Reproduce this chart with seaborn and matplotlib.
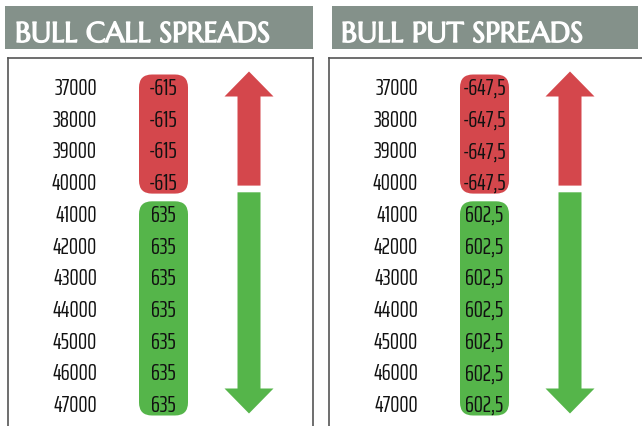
import matplotlib
matplotlib.use("Agg")
import matplotlib.pyplot as plt
import matplotlib.patheffects as pe
from matplotlib.patches import FancyBboxPatch, FancyArrow
import seaborn as sns

# данные
strikes = [37000, 38000, 39000, 40000, 41000, 42000, 43000, 44000, 45000, 46000, 47000]
call_values = [-615, -615, -615, -615, 635, 635, 635, 635, 635, 635, 635]
put_values = [-647.5, -647.5, -647.5, -647.5, 602.5, 602.5, 602.5, 602.5, 602.5, 602.5, 602.5]
titles = ["BULL CALL SPREADS", "BULL PUT SPREADS"]

sns.set_theme(style="white")
plt.rcParams['font.family'] = ['Saira ExtraCondensed', 'DejaVu Sans']
TITLE_FONT = ['Marcellus', 'Liberation Serif']

RED = "#D4474C"
GREEN = "#55B54A"
HEADER = "#84918A"
W, H = 642, 426

fig = plt.figure(figsize=(W / 100, H / 100), dpi=100)
fig.patch.set_facecolor("white")


def px_axes(x0, y0, w, h):
    return fig.add_axes([x0 / W, 1 - (y0 + h) / H, w / W, h / H])


def fmt(v):
    return f"{v:g}".replace(".", ",")


def draw_panel(x0, width, title, hx0, hwidth, tx, values):
    # заголовок
    hax = px_axes(hx0, 6, hwidth, 43)
    hax.set_facecolor(HEADER)
    hax.set_xticks([]); hax.set_yticks([])
    for s in hax.spines.values():
        s.set_visible(False)
    hax.text((tx - hx0) / hwidth, 7 / 43, title, transform=hax.transAxes,
             color="white", fontsize=20.5, family=TITLE_FONT,
             va="baseline", ha="left",
             path_effects=[pe.withStroke(linewidth=1.0, foreground="white")])

    # панель
    ph = 380
    ax = px_axes(x0, 58, width, ph)
    ax.set_xlim(0, width)
    ax.set_ylim(ph, 0)
    ax.set_xticks([]); ax.set_yticks([])
    for s in ax.spines.values():
        s.set_color("#555555")
        s.set_linewidth(1.2)

    row_h = 31.7
    rows = [29.5 + i * row_h for i in range(len(strikes))]
    neg = [i for i, v in enumerate(values) if v < 0]
    pos = [i for i, v in enumerate(values) if v >= 0]

    pill_x, pill_w = 131, 49
    for idx, col in [(neg, RED), (pos, GREEN)]:
        top = rows[idx[0]] - 13
        bot = rows[idx[-1]] + 11
        ax.add_patch(FancyBboxPatch((pill_x, top), pill_w, bot - top,
                                    boxstyle="round,pad=0,rounding_size=13",
                                    facecolor=col, edgecolor="none"))

    for y, k, v in zip(rows, strikes, values):
        ax.text(89, y + 7.5, str(k), ha="right", va="baseline",
                fontsize=16.5, color="#111111")
        ax.text(pill_x + pill_w / 2, y + 7.5, fmt(v), ha="center", va="baseline",
                fontsize=16.5, color="#111111")

    # стрелки
    ax_c = 241
    r_bot = rows[neg[-1]] + 3
    r_top = rows[neg[0]] - 16
    ax.add_patch(FancyArrow(ax_c, r_bot, 0, r_top - r_bot, width=23,
                            head_width=49, head_length=25,
                            length_includes_head=True, color=RED, lw=0))
    g_top = rows[pos[0]] - 22
    g_bot = rows[pos[-1]] + 9
    ax.add_patch(FancyArrow(ax_c, g_top, 0, g_bot - g_top, width=23,
                            head_width=49, head_length=25,
                            length_includes_head=True, color=GREEN, lw=0))


draw_panel(8, 305, titles[0], 5, 308, 15, call_values)
draw_panel(329, 320, titles[1], 332, 306, 341, put_values)

plt.savefig("out.png", dpi=100)
